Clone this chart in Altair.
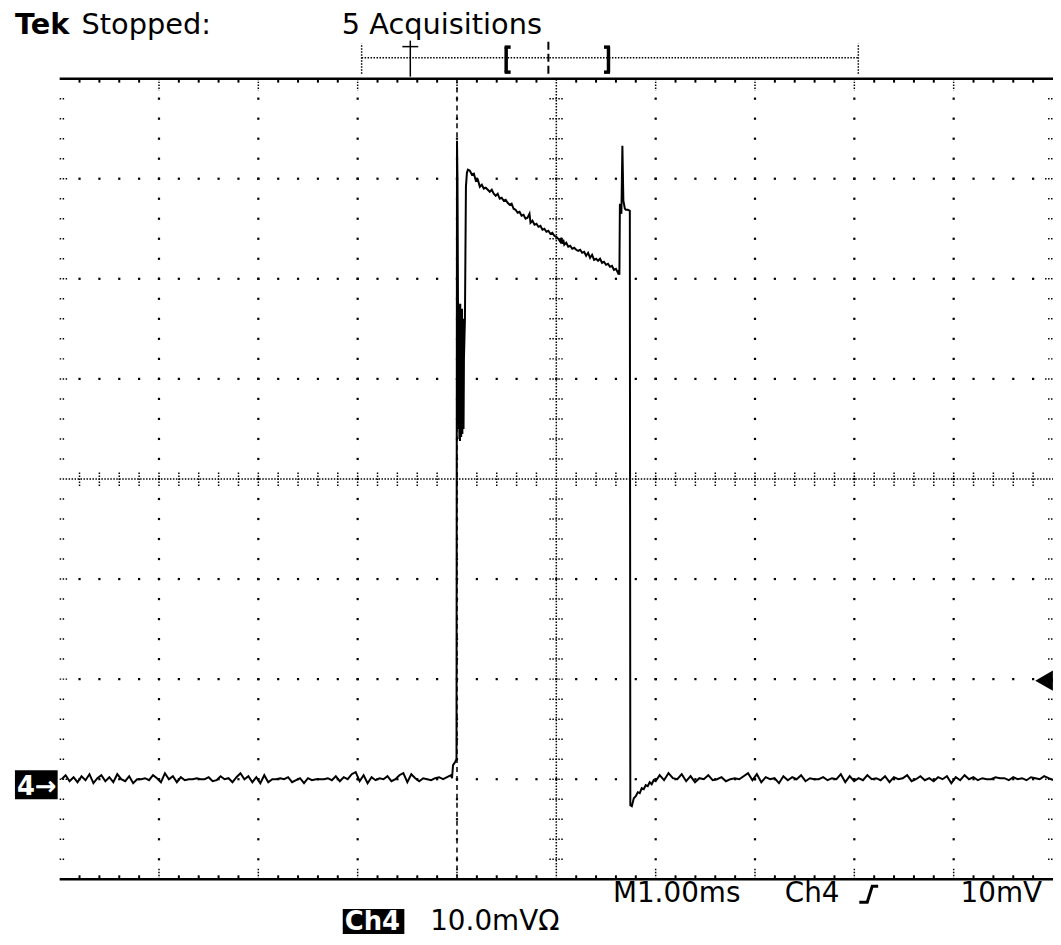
import altair as alt
import pandas as pd

# ---------------- data (time in ms, voltage in mV; 1 ms/div, 10 mV/div) ----------------
left_t0, left_t1 = 0.02, 3.94
left_noise = [-30.0, -29.6, -30.2, -29.8, -30.3, -29.7, -30.1, -29.5, -30.4, -29.9,
              -29.6, -30.2, -29.8, -30.3, -29.5, -30.0, -30.2, -29.7, -30.4, -30.0,
              -30.0, -29.9, -30.1, -29.6, -29.9, -30.3, -29.4, -30.0, -29.7, -30.3,
              -29.8, -30.1, -30.0, -30.0, -29.9, -30.0, -30.0, -29.8, -30.2, -30.1,
              -29.7, -30.0, -29.9, -30.3, -29.8, -29.4, -30.0, -29.7, -30.3, -29.8,
              -30.4, -29.6, -30.3, -30.0, -30.0, -29.9, -30.0, -29.8, -30.3, -30.1,
              -29.9, -30.4, -29.9, -30.1, -30.0, -30.0, -30.0, -29.9, -30.1, -29.7,
              -30.2, -29.8, -30.0, -29.5, -29.3, -30.2, -29.6, -30.4, -29.8, -30.1,
              -29.9, -30.0, -29.7, -30.2, -30.0, -29.6, -29.4, -30.3, -29.5, -29.9,
              -30.2, -29.9, -30.0, -30.1, -29.9, -29.8, -30.0, -29.8, -29.6]

pulse_t = [3.95, 3.96, 3.98, 3.995,
           4.00, 4.005, 4.01, 4.015, 4.018, 4.021, 4.024, 4.027, 4.030, 4.033, 4.036, 4.039,
           4.042, 4.045, 4.048, 4.051, 4.054, 4.057, 4.060, 4.063, 4.066, 4.07, 4.08,
           4.09, 4.10, 4.11, 4.13, 4.15, 4.17, 4.19, 4.21, 4.23,
           4.25, 4.27, 4.29, 4.31, 4.33, 4.35, 4.37, 4.39, 4.41, 4.43, 4.45, 4.47, 4.49,
           4.51, 4.53, 4.55, 4.57, 4.59, 4.61, 4.63, 4.65, 4.67, 4.69, 4.71, 4.73, 4.74,
           4.76, 4.78, 4.80, 4.82, 4.84, 4.86, 4.88, 4.90, 4.92, 4.94, 4.96, 4.98, 5.00,
           5.02, 5.04, 5.05, 5.06, 5.07, 5.08, 5.10, 5.12, 5.14, 5.16, 5.18, 5.20, 5.22,
           5.24, 5.26, 5.28, 5.30, 5.32, 5.34, 5.36, 5.38, 5.40, 5.42, 5.44, 5.46, 5.48,
           5.50, 5.52, 5.54, 5.56, 5.58, 5.60, 5.62, 5.63, 5.635,
           5.64, 5.655, 5.665, 5.675, 5.69, 5.70, 5.72, 5.74, 5.745,
           5.76, 5.78, 5.80, 5.82, 5.84, 5.86, 5.88, 5.90, 5.92, 5.94, 5.96, 5.98, 6.00]
pulse_v = [-29.9, -28.6, -28.3, -28.0,
           33.8, 30.0, 17.8, 17.0, 5.0, 16.5, 4.0, 15.0, 3.8, 17.5, 5.5, 16.0,
           4.2, 14.5, 6.0, 17.0, 4.5, 15.5, 7.0, 16.0, 5.0, 12.0, 16.0,
           29.2, 30.6, 30.9, 30.8, 30.4, 30.5, 29.8, 29.9, 29.2,
           29.4, 29.0, 29.1, 28.9, 28.7, 28.9, 28.5, 28.3, 28.5, 28.0, 28.1, 27.8, 27.9,
           27.6, 27.4, 27.5, 27.0, 26.9, 26.6, 26.7, 26.3, 26.4, 26.0, 26.1, 26.5, 25.6,
           25.8, 25.4, 25.5, 25.2, 25.3, 24.9, 25.0, 24.7, 24.8, 24.5, 24.6, 24.3, 24.2,
           24.0, 23.7, 24.1, 23.5, 23.9, 23.4, 23.6, 23.2, 23.3, 23.0, 23.1, 22.9, 22.8,
           22.9, 22.6, 22.7, 22.3, 22.6, 22.1, 22.4, 21.9, 22.0, 21.8, 22.0, 21.6, 21.7,
           21.4, 21.5, 21.2, 21.3, 20.9, 21.0, 20.6, 20.8, 20.4,
           27.5, 26.5, 33.3, 27.8, 27.0, 26.9, 26.9, 26.8, -32.6,
           -32.7, -31.9, -31.7, -31.3, -31.4, -30.9, -31.0, -30.6, -30.7, -30.3, -30.5, -30.1, -30.2]

right_t0, right_t1 = 6.04, 10.0
right_noise = [-29.6, -30.1, -29.4, -29.9, -30.0, -29.5, -30.2, -29.7, -30.3, -29.9,
               -30.0, -29.6, -30.1, -30.0, -29.8, -30.2, -30.0, -29.9, -30.0, -29.7,
               -29.4, -30.1, -29.5, -30.3, -29.8, -30.0, -29.9, -30.4, -29.7, -30.1,
               -29.8, -30.0, -29.6, -30.2, -29.9, -30.0, -30.0, -29.8, -30.1, -29.9,
               -30.0, -29.5, -30.3, -29.7, -30.2, -29.9, -30.1, -29.6, -30.0, -29.9,
               -30.1, -29.7, -30.3, -29.8, -30.0, -29.9, -29.6, -30.2, -30.0, -29.7,
               -30.1, -29.9, -30.2, -29.8, -30.0, -29.7, -30.4, -29.8, -30.1, -29.6,
               -30.0, -29.8, -30.1, -29.9, -30.0, -30.0, -29.8, -29.9, -29.9, -30.1,
               -29.8, -30.0, -29.9, -30.1, -29.8, -29.9, -30.0, -29.7, -29.9, -30.1]

TRIGGER_TIME = 4.0        # ms
TRIGGER_LEVEL = -20.15    # mV

logo_labels = ["Tek"]
logo_t = [-0.45]
header_labels = ["Stopped:", "5 Acquisitions"]
header_t = [0.22, 2.84]
HEADER_BASE_V = 44.5
footer_labels = ["M1.00ms", "Ch4", "10mV", "10.0mVΩ"]
footer_t = [5.57, 7.30, 9.07, 3.73]
footer_v = [-42.28, -42.28, -42.28, -45.06]

# ---------------- scales / helpers ----------------
XS = alt.Scale(domain=[0, 10], nice=False, zero=False)
YS = alt.Scale(domain=[-40, 40], nice=False, zero=False)
FONT = "DejaVu Sans"


def enc_xy(ch):
    return ch.encode(x=alt.X("t:Q", scale=XS, axis=None), y=alt.Y("v:Q", scale=YS, axis=None))


def rules(rows, width=1.0, dash=None, color="black"):
    df = pd.DataFrame(rows, columns=["t", "t2", "v", "v2"])
    kw = dict(color=color, strokeWidth=width, strokeCap="butt")
    if dash:
        kw["strokeDash"] = dash
    return alt.Chart(df).mark_rule(**kw).encode(
        x=alt.X("t:Q", scale=XS, axis=None), x2="t2:Q",
        y=alt.Y("v:Q", scale=YS, axis=None), y2="v2:Q")


def texts(labels, ts, vs, size, baseline="alphabetic", weight="normal", color="black"):
    df = pd.DataFrame({"t": ts, "v": vs, "label": labels})
    return alt.Chart(df).mark_text(align="left", baseline=baseline, font=FONT, fontSize=size,
                                   fontWeight=weight, color=color).encode(
        x=alt.X("t:Q", scale=XS, axis=None), y=alt.Y("v:Q", scale=YS, axis=None), text="label:N")


minor_t = [round(i * 0.2, 2) for i in range(1, 50)]
minor_v = [round(-40 + i * 2, 2) for i in range(1, 40)]
major_t = [1, 2, 3, 4, 6, 7, 8, 9]
major_v = [-30, -20, -10, 10, 20, 30]

# grid dots
dots = [(mt, v) for mt in major_t for v in minor_v] + [(t, mv) for mv in major_v for t in minor_t]
dots_df = pd.DataFrame(dots, columns=["t", "v"])
grid = enc_xy(alt.Chart(dots_df).mark_square(size=5, color="black", opacity=1, strokeWidth=0))

# frame
frame = rules([(0, 10, 40, 40), (0, 10, -40, -40)], width=2.5)
minor_ticks = rules([(t, t, 40, 39.6) for t in minor_t if round(t) != t] +
                    [(t, t, -40, -39.6) for t in minor_t if round(t) != t], width=2)
major_ticks = rules([(t, t, 40, 38.8) for t in major_t] + [(t, t, -40, -38.8) for t in major_t],
                    width=1.5, dash=[1.5, 1.5])
edge_ticks = rules([(0, 0.05, v, v) for v in minor_v if v not in major_v and v != 0] +
                   [(9.95, 10, v, v) for v in minor_v if v not in major_v and v != 0] +
                   [(0, 0.08, v, v) for v in major_v] + [(9.92, 10, v, v) for v in major_v],
                   width=1.5, dash=[1.5, 1.5])

# center cross
center = rules([(5, 5, -40, 40), (0, 10, 0, 0)], width=1.5, dash=[1.5, 1.5])
center_ticks = rules([(4.93, 5.07, v, v) for v in minor_v if v != 0] +
                     [(t, t, -0.7, 0.7) for t in minor_t if t != 5],
                     width=1.5, dash=[1.5, 1.5])

# trigger time dashed marker
trig = rules([(TRIGGER_TIME, TRIGGER_TIME, -40, 40)], width=1.5, dash=[5, 4])

# header record bar
bar_dotted = rules([(3.04, 8.04, 42.1, 42.1), (3.04, 3.04, 40.5, 43.5), (8.04, 8.04, 40.5, 43.5)],
                   width=1.5, dash=[1.5, 1.5])
tee = rules([(3.53, 3.53, 40.2, 43.8), (3.45, 3.61, 43.2, 43.2)], width=1.5)
brackets = rules([(4.495, 4.495, 40.6, 43.2), (4.48, 4.54, 43.15, 43.15), (4.48, 4.54, 40.65, 40.65),
                  (5.525, 5.525, 40.6, 43.2), (5.48, 5.54, 43.15, 43.15), (5.48, 5.54, 40.65, 40.65)],
                 width=3.5)
center_mark = rules([(4.92, 4.92, 40.5, 43.8)], width=2, dash=[8, 4])

# trace
t_all = ([left_t0 + i * (left_t1 - left_t0) / (len(left_noise) - 1) for i in range(len(left_noise))]
         + pulse_t +
         [right_t0 + i * (right_t1 - right_t0) / (len(right_noise) - 1) for i in range(len(right_noise))])
v_all = left_noise + pulse_v + right_noise
trace_df = pd.DataFrame({"t": t_all, "v": v_all, "i": list(range(len(t_all)))})
trace = alt.Chart(trace_df).mark_line(color="black", strokeWidth=2, interpolate="linear").encode(
    x=alt.X("t:Q", scale=XS, axis=None), y=alt.Y("v:Q", scale=YS, axis=None), order="i:Q")

# trigger slope symbol
slope_df = pd.DataFrame({"t": [8.05, 8.13, 8.18, 8.24], "v": [-42.3, -42.3, -40.7, -40.7], "i": [0, 1, 2, 3]})
slope = alt.Chart(slope_df).mark_line(color="black", strokeWidth=3).encode(
    x=alt.X("t:Q", scale=XS, axis=None), y=alt.Y("v:Q", scale=YS, axis=None), order="i:Q")

# trigger level arrow (right)
arrow_head = enc_xy(alt.Chart(pd.DataFrame({"t": [9.91], "v": [TRIGGER_LEVEL]}))
                    .mark_point(shape="triangle-left", filled=True, size=420, color="black", opacity=1))
arrow_stem = rules([(9.92, 10.0, TRIGGER_LEVEL, TRIGGER_LEVEL)], width=3)

# boxes
box_df = pd.DataFrame({"t": [-0.45, 2.85], "t2": [-0.02, 3.47],
                       "v": [-29.1, -42.98], "v2": [-32.0, -45.46]})
boxes = alt.Chart(box_df).mark_rect(color="black").encode(
    x=alt.X("t:Q", scale=XS, axis=None), x2="t2:Q",
    y=alt.Y("v:Q", scale=YS, axis=None), y2="v2:Q")
box_text = texts(["4→", "Ch4"], [-0.43, 2.87], [-31.6, -45.06], 26, weight="bold", color="white")

logo = texts(logo_labels, logo_t, [HEADER_BASE_V], 29, weight="bold")
head = texts(header_labels, header_t, [HEADER_BASE_V] * len(header_labels), 29)
foot = texts(footer_labels, footer_t, footer_v, 28)

chart = alt.layer(
    grid, frame, minor_ticks, major_ticks, edge_ticks, center, center_ticks, trig,
    bar_dotted, tee, brackets, center_mark, trace, slope, arrow_head, arrow_stem,
    boxes, box_text, logo, head, foot
).properties(
    width=1000, height=806,
    padding={"left": 52, "top": 68, "right": 0, "bottom": 58},
    autosize=alt.AutoSizeParams(type="none"),
    background="white",
).configure_view(stroke=None)

chart.save("out.html", embed_options={"renderer": "svg", "actions": False})
